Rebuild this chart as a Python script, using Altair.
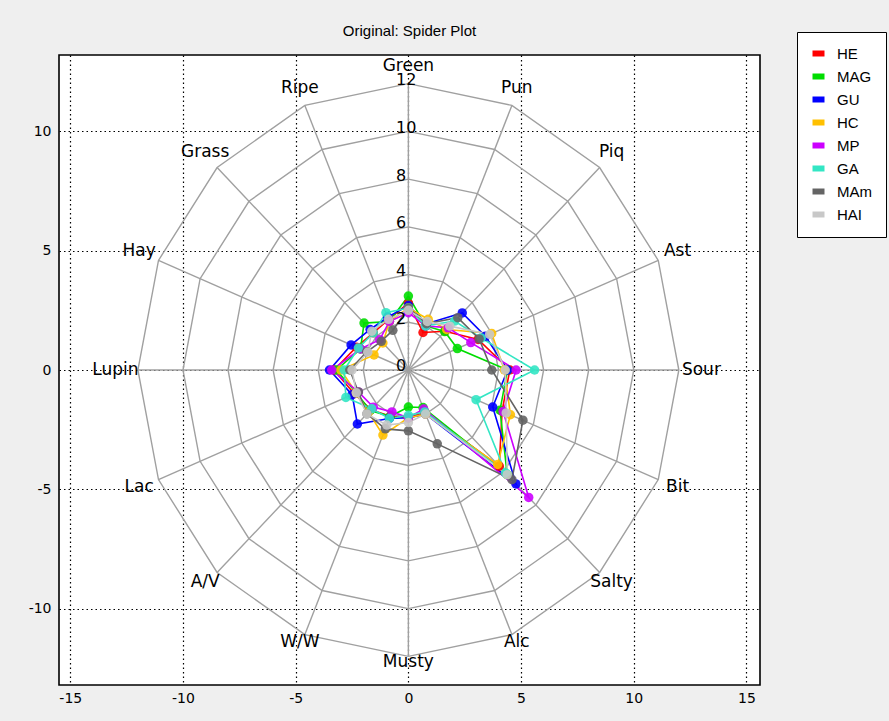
import altair as alt
import numpy as np
import pandas as pd

# ---------------- data ----------------
categories = ["Green", "Pun", "Piq", "Ast", "Sour", "Bit", "Salty", "Alc",
              "Musty", "W/W", "A/V", "Lac", "Lupin", "Hay", "Grass", "Ripe"]
series_names = ["HE", "MAG", "GU", "HC", "MP", "GA", "MAm", "HAI"]
series_colors = ["#FF0000", "#00DD00", "#0000FF", "#FFC000",
                 "#CC00FF", "#33E6C4", "#646464", "#C8C8C8"]

HE  = [2.8, 1.7, 2.3, 3.35, 4.5, 4.5, 5.7, 1.9, 2.0, 2.1, 2.35, 2.6, 3.3, 2.5, 2.2, 2.3]
MAG = [3.1, 2.0, 2.28, 2.35, 4.4, 4.4, 6.2, 1.7, 1.55, 2.1, 2.4, 2.5, 3.2, 2.3, 2.78, 2.2]
GU  = [2.7, 2.1, 3.38, 3.7, 4.4, 4.05, 6.75, 2.0, 2.0, 2.2, 3.2, 2.7, 3.5, 2.75, 2.4, 2.4]
HC  = [2.6, 2.3, 2.4, 4.0, 4.26, 4.9, 5.6, 2.0, 2.0, 2.95, 2.5, 2.5, 3.0, 1.65, 1.6, 2.2]
MP  = [2.4, 2.0, 2.5, 3.0, 4.78, 4.55, 7.55, 1.77, 2.0, 1.9, 2.2, 2.4, 3.4, 2.3, 1.8, 2.2]
GA  = [2.6, 2.0, 2.9, 3.5, 5.6, 3.25, 6.1, 1.9, 1.9, 2.2, 2.3, 3.0, 2.85, 2.4, 2.2, 2.6]
MAm = [2.6, 2.1, 3.1, 3.4, 3.7, 5.5, 6.5, 3.35, 2.55, 2.67, 2.6, 2.4, 2.6, 2.0, 1.7, 1.8]
HAI = [2.5, 2.2, 2.6, 3.9, 4.3, 4.7, 6.2, 2.0, 2.2, 2.5, 2.6, 2.5, 2.5, 1.95, 2.3, 2.3]
series_values = [HE, MAG, GU, HC, MP, GA, MAm, HAI]

ring_radii = [2, 4, 6, 8, 10, 12]
ring_label_values = [0, 2, 4, 6, 8, 10, 12]
x_ticks = [-15, -10, -5, 0, 5, 10, 15]
y_ticks = [-10, -5, 0, 5, 10]

# ---------------- derived tables ----------------
n = len(categories)
ang = [np.deg2rad(90 - 360.0 / n * k) for k in range(n)]
rmax = max(ring_radii)

ring_rows = []
for r in ring_radii:
    for k in range(n + 1):
        a = ang[k % n]
        ring_rows.append({"ring": r, "order": k, "x": r * np.cos(a), "y": r * np.sin(a)})
rings_df = pd.DataFrame(ring_rows)

spokes_df = pd.DataFrame({
    "x": [0.0] * n, "y": [0.0] * n,
    "x2": [rmax * np.cos(a) for a in ang],
    "y2": [rmax * np.sin(a) for a in ang],
})

ser_rows = []
for name, vals in zip(series_names, series_values):
    for k in range(n + 1):
        a = ang[k % n]
        v = vals[k % n]
        ser_rows.append({"series": name, "order": k, "x": v * np.cos(a), "y": v * np.sin(a)})
ser_df = pd.DataFrame(ser_rows)
pts_df = ser_df[ser_df["order"] < n]

# label placement just outside the outer ring
lab_r = [12.5 + 0.5 * np.cos(a) ** 2 for a in ang]
cat_df = pd.DataFrame({
    "label": categories,
    "x": [r * np.cos(a) for r, a in zip(lab_r, ang)],
    "y": [r * np.sin(a) + 0.25 * np.sin(a) ** 2 for r, a in zip(lab_r, ang)],
})

rl_df = pd.DataFrame({
    "label": [str(v) for v in ring_label_values],
    "x": [-0.55] * len(ring_label_values),
    "y": [v + 0.15 for v in ring_label_values],
})

# ---------------- encodings ----------------
xs = alt.Scale(domain=[-15.5, 15.6], nice=False, zero=False)
ys = alt.Scale(domain=[-13.2, 13.2], nice=False, zero=False)
axis_common = dict(grid=True, gridColor="black", gridDash=[1.5, 3], gridWidth=1.2,
                   gridOpacity=1, ticks=False, domain=False, title=None,
                   labelFont="DejaVu Sans", labelFontSize=14, labelColor="black",
                   labelFlush=False, labelExpr="'' + datum.value")
xax = alt.Axis(values=x_ticks, labelPadding=6, **axis_common)
yax = alt.Axis(values=y_ticks, labelPadding=8, **axis_common)
X = alt.X("x:Q", scale=xs, axis=xax)
Y = alt.Y("y:Q", scale=ys, axis=yax)

color_scale = alt.Scale(domain=series_names, range=series_colors)

rings = alt.Chart(rings_df).mark_line(color="#A0A0A0", strokeWidth=1.4).encode(
    x=X, y=Y, detail="ring:N", order="order:Q")

spokes = alt.Chart(spokes_df).mark_rule(color="#A0A0A0", strokeWidth=1.4).encode(
    x=X, y=Y, x2="x2:Q", y2="y2:Q")

lines = alt.Chart(ser_df).mark_line(strokeWidth=1.6).encode(
    x=X, y=Y, order="order:Q",
    color=alt.Color("series:N", scale=color_scale, legend=None))

points = alt.Chart(pts_df).mark_circle(size=90, opacity=0.9).encode(
    x=X, y=Y,
    color=alt.Color("series:N", scale=color_scale,
                    legend=alt.Legend(title=None, orient="none", legendX=738, legendY=-23,
                                      padding=14, strokeColor="black", fillColor="white",
                                      labelFont="Liberation Sans", labelFontSize=15,
                                      labelColor="black",
                                      symbolType="M-1,-0.5H1V0.5H-1Z", symbolSize=144,
                                      symbolStrokeWidth=0, symbolOpacity=1,
                                      rowPadding=7, labelOffset=11)))

cat_text = alt.Chart(cat_df).mark_text(font="DejaVu Sans", fontSize=17, color="black",
                                       align="center", baseline="middle").encode(
    x=X, y=Y, text="label:N")

rl_text = alt.Chart(rl_df).mark_text(font="DejaVu Sans", fontSize=16, color="black",
                                     align="left", baseline="middle").encode(
    x=X, y=Y, text="label:N")

chart = alt.layer(rings, spokes, lines, points, rl_text, cat_text).resolve_legend(
    color="independent"
).properties(
    width=701, height=630,
    title=alt.TitleParams("Original: Spider Plot", font="Liberation Sans", fontSize=15,
                          fontWeight="normal", color="black", anchor="middle",
                          frame="group", offset=-19, baseline="alphabetic"),
    padding={"left": 59, "top": 55, "right": 129, "bottom": 36},
    autosize=alt.AutoSizeParams(type="none"),
).configure(background="#EFEFEF").configure_view(
    fill="white", stroke="black", strokeWidth=1.6)

chart.save("out.html", embed_options={"renderer": "svg", "actions": False})
